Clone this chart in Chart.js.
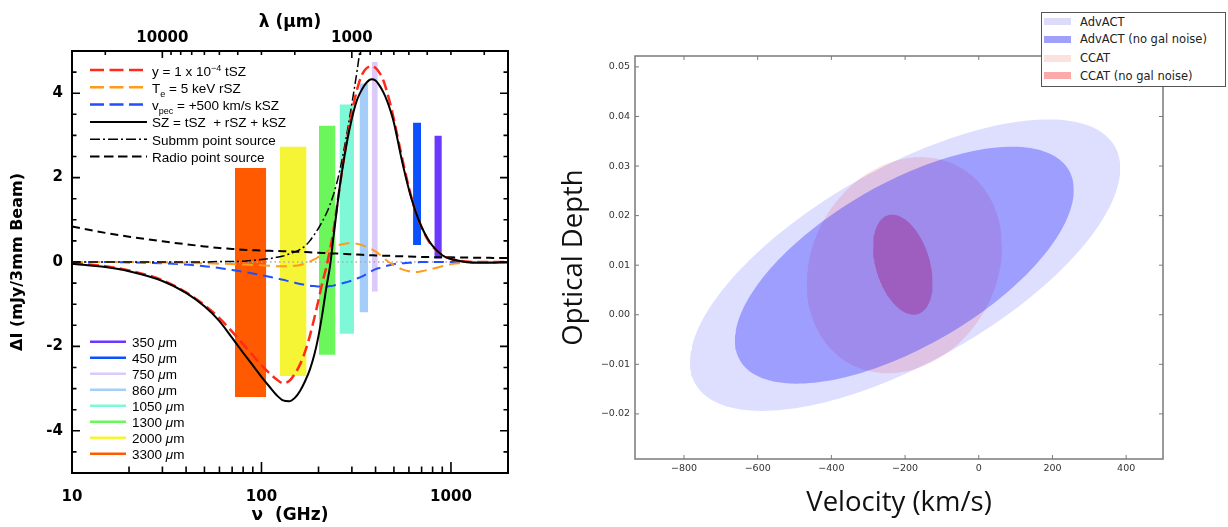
<!DOCTYPE html>
<html>
<head>
<meta charset="utf-8">
<title>SZ spectrum and velocity / optical depth forecasts</title>
<script src="https://cdn.jsdelivr.net/npm/chart.js@4.4.1/dist/chart.umd.min.js"></script>
<style>
  html, body { margin:0; padding:0; background:#fff; }
  #wrap { position:relative; width:1228px; height:527px; overflow:hidden; }
  #wrap canvas { position:absolute; top:0; }
  #spec { left:0; }
  #ellip { left:540px; }
  #keys { position:absolute; left:0; top:0; pointer-events:none; }
  .key { position:absolute; white-space:nowrap; line-height:13px; font:13.5px "Liberation Sans", Arial, sans-serif; color:#000; }
  .key sup { font-size:9px; vertical-align:5px; line-height:0; }
  .key sub { font-size:9px; vertical-align:-4px; line-height:0; }
  #fcLegend { position:absolute; left:1041px; top:12px; width:185px; height:75px; background:#fff; border:1px solid #555; box-sizing:border-box; }
  #fcLegend .sw { position:absolute; left:2px; width:27px; height:7px; }
  #fcLegend .tx { position:absolute; left:38px; line-height:14px; font:11.5px "DejaVu Sans", sans-serif; color:#222; white-space:nowrap; }
</style>
</head>
<body>
<div id="wrap">
  <canvas id="spec" width="540" height="527"></canvas>
  <canvas id="ellip" width="688" height="527"></canvas>
  <svg id="keys" width="1228" height="527"></svg>
  <div id="fcLegend"></div>
</div>
<script>
// ---------- left panel: SZ spectra, dI (mJy / 3mm beam) against nu (GHz)
const nu = [10, 15, 20, 30, 40, 50, 60, 70, 80, 90,
  100, 110, 120, 130, 140, 150, 160, 170, 180, 190,
  200, 210, 220, 230, 240, 250, 260, 280, 300, 320,
  340, 360, 380, 400, 420, 440, 460, 480, 500, 550,
  600, 650, 700, 750, 800, 900, 1000, 1100, 1200, 1400,
  1600, 1800, 2000];
const tszY = [-0.03, -0.1, -0.2, -0.43, -0.72, -1.02, -1.33, -1.65, -1.95, -2.21,
  -2.45, -2.63, -2.78, -2.87, -2.82, -2.65, -2.42, -2.12, -1.75, -1.33,
  -0.9, -0.47, -0.12, 0.3, 0.75, 1.3, 1.85, 2.8, 3.55, 4.1,
  4.45, 4.6, 4.64, 4.6, 4.48, 4.3, 4.03, 3.72, 3.38, 2.5,
  1.76, 1.2, 0.82, 0.55, 0.37, 0.16, 0.07, 0.03, 0.01, 0,
  0, 0, 0];
const rszY = [0, 0, 0, -0.01, -0.02, -0.03, -0.04, -0.05, -0.06, -0.07,
  -0.08, -0.09, -0.1, -0.1, -0.1, -0.09, -0.07, -0.03, 0.01, 0.06,
  0.12, 0.18, 0.23, 0.3, 0.35, 0.39, 0.41, 0.44, 0.45, 0.43,
  0.4, 0.36, 0.31, 0.25, 0.18, 0.1, 0.03, -0.03, -0.08, -0.17,
  -0.22, -0.24, -0.22, -0.19, -0.16, -0.1, -0.05, -0.03, -0.01, 0,
  0, 0, 0];
const kszY = [0, 0, -0.01, -0.03, -0.06, -0.1, -0.14, -0.19, -0.23, -0.27,
  -0.31, -0.35, -0.39, -0.42, -0.46, -0.49, -0.52, -0.54, -0.56, -0.57,
  -0.58, -0.58, -0.58, -0.57, -0.56, -0.54, -0.52, -0.48, -0.44, -0.39,
  -0.34, -0.28, -0.22, -0.17, -0.14, -0.11, -0.09, -0.07, -0.05, -0.03,
  -0.02, -0.01, 0, 0, 0, 0, 0, 0, 0, 0,
  0, 0, 0];
const szTotalY = [-0.04, -0.12, -0.22, -0.45, -0.73, -1.05, -1.4, -1.8, -2.15, -2.45,
  -2.72, -2.95, -3.15, -3.28, -3.3, -3.22, -3.05, -2.82, -2.55, -2.2,
  -1.75, -1.2, -0.6, -0.1, 0.6, 1.25, 1.85, 2.75, 3.4, 3.85,
  4.1, 4.26, 4.33, 4.3, 4.18, 4.02, 3.82, 3.58, 3.3, 2.42,
  1.72, 1.2, 0.83, 0.57, 0.38, 0.16, 0.07, 0.03, 0, -0.02,
  -0.02, -0.01, -0.01];
const submmY = [0, 0, 0, 0, 0, 0, 0.01, 0.01, 0.02, 0.04,
  0.06, 0.08, 0.11, 0.14, 0.19, 0.24, 0.3, 0.38, 0.5, 0.65,
  0.8, 0.97, 1.15, 1.36, 1.6, 1.88, 2.2, 2.95, 3.75, 4.55,
  5.4, null, null, null, null, null, null, null, null, null,
  null, null, null, null, null, null, null, null, null, null,
  null, null, null];
const radioY = [0.84, 0.69, 0.6, 0.49, 0.42, 0.37, 0.33, 0.31, 0.29, 0.28,
  0.27, 0.265, 0.26, 0.255, 0.25, 0.245, 0.24, 0.235, 0.23, 0.225,
  0.22, 0.215, 0.21, 0.205, 0.2, 0.2, 0.195, 0.19, 0.18, 0.175,
  0.17, 0.165, 0.16, 0.155, 0.152, 0.15, 0.147, 0.145, 0.14, 0.135,
  0.13, 0.125, 0.12, 0.118, 0.115, 0.112, 0.11, 0.107, 0.105, 0.1,
  0.098, 0.096, 0.095];
const zeroNu = [10, 2000];
const zeroY = [0, 0];

// observing bands, drawn as floating bars
const bandNames = ['350', '450', '750', '860', '1050', '1300', '2000', '3300'];
const bandColors = ['#6b38ff', '#0b50ff', '#dccafa', '#a5cdfa', '#7ff8d8', '#6bf75c', '#f5f536', '#ff5a00'];
const bandNuLow = [817, 631, 382, 329, 258, 201, 125, 72.4];
const bandNuHigh = [895, 695, 411, 366, 308, 246, 173, 106];
const bandTop = [2.99, 3.3, 4.74, 4.23, 3.73, 3.23, 2.73, 2.23];
const bandBottom = [0.08, 0.4, -0.7, -1.19, -1.7, -2.2, -2.7, -3.2];

// axis ticks of the left panel
const nuTicks = [10, 20, 30, 40, 50, 60, 70, 80, 90, 100, 200, 300, 400, 500, 600, 700, 800, 900, 1000, 2000];
const nuLabelVals = [10, 100, 1000];
const lamTicks = [20000, 10000, 9000, 8000, 7000, 6000, 5000, 4000, 3000, 2000,
  1000, 900, 800, 700, 600, 500, 400, 300, 200];
const lamLabelVals = [10000, 1000];
const dITicks = [-4.5, -4, -3.5, -3, -2.5, -2, -1.5, -1, -0.5, 0, 0.5, 1, 1.5, 2, 2.5, 3, 3.5, 4, 4.5];
const dILabelVals = [-4, -2, 0, 2, 4];
const LAM_NU = 299792.458; // lambda[um] * nu[GHz]

// ---------- right panel: forecast ellipses, optical depth against velocity
const fcNames = ['AdvACT', 'AdvACT (no gal noise)', 'CCAT', 'CCAT (no gal noise)'];
const fcCenterV = [-200, -202, -202, -206];
const fcCenterTau = [0.0100, 0.0100, 0.0100, 0.0101];
const fcHalfV = [584, 460, 265, 81];
const fcHalfTau = [0.0294, 0.0239, 0.0218, 0.0101];
const fcCorr = [0.665, 0.635, 0.17, -0.36];
const fcFill = ['rgba(0,0,255,0.13)', 'rgba(0,0,255,0.29)', 'rgba(255,0,0,0.12)', 'rgba(255,0,0,0.33)'];
const fcSwatch = ['#dcdcfa', '#a0a0fa', '#fce1e1', '#faaaaa'];
const velTicks = [-800, -600, -400, -200, 0, 200, 400];
const tauTicks = [-0.02, -0.01, 0, 0.01, 0.02, 0.03, 0.04, 0.05];

// inward tick marks + frame box, IDL / matplotlib style
const frameTicks = {
  id: 'frameTicks',
  afterDraw(chart, _args, o) {
    const { ctx, chartArea: a } = chart;
    ctx.save();
    ctx.strokeStyle = o.color;
    ctx.lineWidth = o.tickWidth;
    ctx.beginPath();
    o.marks.forEach(m => {
      const sc = chart.scales[m.scale];
      sc.ticks.forEach(t => {
        const p = sc.getPixelForValue(t.value);
        const len = t.big ? m.major : m.minor;
        m.sides.forEach(side => {
          if (side === 'bottom') { ctx.moveTo(p, a.bottom); ctx.lineTo(p, a.bottom - len); }
          if (side === 'top') { ctx.moveTo(p, a.top); ctx.lineTo(p, a.top + len); }
          if (side === 'left') { ctx.moveTo(a.left, p); ctx.lineTo(a.left + len, p); }
          if (side === 'right') { ctx.moveTo(a.right, p); ctx.lineTo(a.right - len, p); }
        });
      });
    });
    ctx.stroke();
    ctx.lineWidth = o.frameWidth;
    ctx.strokeRect(a.left, a.top, a.right - a.left, a.bottom - a.top);
    ctx.restore();
  }
};

const minus = s => String(s).replace('-', '\u2212');
const NONE = 'rgba(0,0,0,0)';
const noGrid = { display: false, drawTicks: false };

function curve(ys, color, width, dash) {
  return {
    data: nu.map((x, i) => ({ x, y: ys[i] })),
    borderColor: color, borderWidth: width, borderDash: dash || [],
    fill: false, cubicInterpolationMode: 'monotone'
  };
}

const specSets = [
  curve(szTotalY, '#000', 2),
  curve(tszY, '#ff2a1a', 2.5, [11, 5]),
  curve(submmY, '#000', 1.5, [9, 3, 2, 3]),
  curve(radioY, '#000', 2, [8, 5]),
  curve(rszY, '#ff9a1a', 2, [11, 6]),
  curve(kszY, '#1f4fff', 2, [10, 6]),
  { data: zeroNu.map((x, i) => ({ x, y: zeroY[i] })), borderColor: '#aaa', borderWidth: 1.5, borderDash: [1.5, 3], fill: false }
].concat(bandNames.map((n, i) => ({
  data: [{ x: bandNuLow[i], y: bandTop[i] }, { x: bandNuHigh[i], y: bandTop[i] }],
  borderColor: NONE, borderWidth: 0, backgroundColor: bandColors[i],
  fill: { value: bandBottom[i] }
})));

const bold = size => ({ family: 'DejaVu Sans', size, weight: 'bold' });

new Chart(document.getElementById('spec'), {
  type: 'line',
  data: { datasets: specSets },
  options: {
    responsive: false, animation: false, events: [],
    layout: { padding: { left: 0, right: 32, top: 0, bottom: 0 }, autoPadding: false },
    elements: { point: { radius: 0 } },
    plugins: {
      legend: { display: false }, tooltip: { enabled: false },
      frameTicks: {
        color: '#000', tickWidth: 1.6, frameWidth: 2,
        marks: [
          { scale: 'x', sides: ['bottom'], major: 11, minor: 6.5 },
          { scale: 'x2', sides: ['top'], major: 7, minor: 4 },
          { scale: 'y', sides: ['left', 'right'], major: 8, minor: 4.5 }
        ]
      }
    },
    scales: {
      x: {
        type: 'logarithmic', position: 'bottom', min: 10, max: 2000, bounds: 'data',
        afterBuildTicks: s => { s.ticks = nuTicks.map(v => ({ value: v, big: nuLabelVals.includes(v) })); },
        afterFit: s => { s.height = 54; },
        grid: noGrid, border: { display: false },
        ticks: { autoSkip: false, maxRotation: 0, padding: 15, color: '#000', font: bold(15),
          callback: (v, i, t) => t[i].big ? String(v) : '' },
        title: { display: true, text: 'ν  (GHz)', color: '#000', font: bold(17), padding: { top: 0, bottom: 1 } }
      },
      x2: {
        axis: 'x', type: 'logarithmic', position: 'top', min: 10, max: 2000, bounds: 'data',
        afterBuildTicks: s => { s.ticks = lamTicks.map(l => ({ value: LAM_NU / l, lam: l, big: lamLabelVals.includes(l) })); },
        afterFit: s => { s.height = 51; },
        grid: noGrid, border: { display: false },
        ticks: { autoSkip: false, maxRotation: 0, padding: 4, color: '#000', font: bold(15),
          callback: (v, i, t) => t[i].big ? String(t[i].lam) : '' },
        title: { display: true, text: 'λ (μm)', color: '#000', font: bold(17), padding: { top: 12, bottom: 0 } }
      },
      y: {
        type: 'linear', position: 'left', min: -5, max: 5, bounds: 'data',
        afterBuildTicks: s => { s.ticks = dITicks.map(v => ({ value: v, big: dILabelVals.includes(v) })); },
        afterFit: s => { s.width = 72; },
        grid: noGrid, border: { display: false },
        ticks: { autoSkip: false, padding: 9, color: '#000', font: bold(15),
          callback: (v, i, t) => t[i].big ? String(v) : '' },
        title: { display: true, text: 'ΔI (mJy/3mm Beam)', color: '#000', font: bold(16), padding: { top: 8, bottom: 0 } }
      }
    }
  },
  plugins: [frameTicks]
});

// ---------- right chart
function ellipseHalves(k) {
  const up = [], lo = [];
  const r = Math.sqrt(1 - fcCorr[k] * fcCorr[k]);
  for (let i = 0; i <= 90; i++) {
    const s = -Math.cos(Math.PI * i / 90);
    const w = Math.sqrt(Math.max(0, 1 - s * s));
    const x = fcCenterV[k] + fcHalfV[k] * s;
    up.push({ x, y: fcCenterTau[k] + fcHalfTau[k] * (fcCorr[k] * s + r * w) });
    lo.push({ x, y: fcCenterTau[k] + fcHalfTau[k] * (fcCorr[k] * s - r * w) });
  }
  return [up, lo];
}

const fcOrder = [1, 0, 3, 2]; // top-most first
const fcSets = [];
fcOrder.forEach(k => {
  const [up, lo] = ellipseHalves(k);
  const lowerIndex = fcSets.length + 1;
  fcSets.push({ label: fcNames[k], data: up, fill: lowerIndex, backgroundColor: fcFill[k], borderColor: NONE, borderWidth: 0, tension: 0 });
  fcSets.push({ data: lo, fill: false, backgroundColor: NONE, borderColor: NONE, borderWidth: 0, tension: 0 });
});

const small = { family: 'DejaVu Sans', size: 9.5 };
const big = { family: '"Open Sans", sans-serif', size: 27.5 };

new Chart(document.getElementById('ellip'), {
  type: 'line',
  data: { datasets: fcSets },
  options: {
    responsive: false, animation: false, events: [],
    layout: { padding: { left: 0, right: 65, top: 56, bottom: 0 }, autoPadding: false },
    elements: { point: { radius: 0 } },
    plugins: {
      legend: { display: false }, tooltip: { enabled: false },
      frameTicks: {
        color: '#7a7a7a', tickWidth: 1, frameWidth: 1.5,
        marks: [
          { scale: 'x', sides: ['bottom', 'top'], major: 4, minor: 4 },
          { scale: 'y', sides: ['left', 'right'], major: 4, minor: 4 }
        ]
      }
    },
    scales: {
      x: {
        type: 'linear', position: 'bottom', min: -933, max: 500, bounds: 'data',
        afterBuildTicks: s => { s.ticks = velTicks.map(v => ({ value: v, big: true })); },
        afterFit: s => { s.height = 68; },
        grid: noGrid, border: { display: false },
        ticks: { autoSkip: false, maxRotation: 0, padding: 4, color: '#333', font: small, callback: v => minus(v) },
        title: { display: true, text: 'Velocity (km/s)', color: '#111', font: big, padding: { top: 0, bottom: 7 } }
      },
      y: {
        type: 'linear', position: 'left', min: -0.0291, max: 0.0522, bounds: 'data',
        afterBuildTicks: s => { s.ticks = tauTicks.map(v => ({ value: v, big: true })); },
        afterFit: s => { s.width = 95; },
        grid: noGrid, border: { display: false },
        ticks: { autoSkip: false, padding: 5, color: '#333', font: small, callback: v => minus(v.toFixed(2)) },
        title: { display: true, text: 'Optical Depth', color: '#111', font: big, padding: { top: 18, bottom: 0 } }
      }
    }
  },
  plugins: [frameTicks]
});

// ---------- keys (legends)
const specKeys = [
  { html: 'y = 1 x 10<sup>−4</sup> tSZ', color: '#ff2a1a', dash: '14 5.5', w: 2.5 },
  { html: 'T<sub>e</sub> = 5 keV rSZ', color: '#ff9a1a', dash: '14 5.5', w: 2.5 },
  { html: 'v<sub>pec</sub> = +500 km/s kSZ', color: '#1f4fff', dash: '14 5.5', w: 2.5 },
  { html: 'SZ = tSZ &nbsp;+ rSZ + kSZ', color: '#000', dash: '', w: 2 },
  { html: 'Submm point source', color: '#000', dash: '10 3 2 3', w: 1.5 },
  { html: 'Radio point source', color: '#000', dash: '9.5 4.5', w: 2 }
];
const svg = document.getElementById('keys');
const wrap = document.getElementById('wrap');
let svgMarkup = '';
function keyText(html, left, cy) {
  const d = document.createElement('div');
  d.className = 'key';
  d.style.left = left + 'px';
  d.style.top = (cy - 6.5) + 'px';
  d.innerHTML = html;
  wrap.appendChild(d);
}
specKeys.forEach((k, i) => {
  const cy = 70 + 17.3 * i;
  svgMarkup += `<line x1="90" x2="147" y1="${cy}" y2="${cy}" stroke="${k.color}" stroke-width="${k.w}"` +
    (k.dash ? ` stroke-dasharray="${k.dash}"` : '') + '/>';
  keyText(k.html, 152, cy);
});
bandNames.forEach((n, i) => {
  const cy = 341.7 + 16 * i;
  svgMarkup += `<line x1="90" x2="126" y1="${cy}" y2="${cy}" stroke="${bandColors[i]}" stroke-width="2.5"/>`;
  keyText(n + ' <i>μ</i>m', 132, cy);
});
svg.innerHTML = svgMarkup;

const fcLegend = document.getElementById('fcLegend');
fcNames.forEach((n, i) => {
  const cy = [8.7, 26.3, 45, 62.7][i];
  fcLegend.insertAdjacentHTML('beforeend',
    `<div class="sw" style="top:${cy - 3.5}px;background:${fcSwatch[i]}"></div>` +
    `<div class="tx" style="top:${cy - 7}px">${n}</div>`);
});
</script>
</body>
</html>
